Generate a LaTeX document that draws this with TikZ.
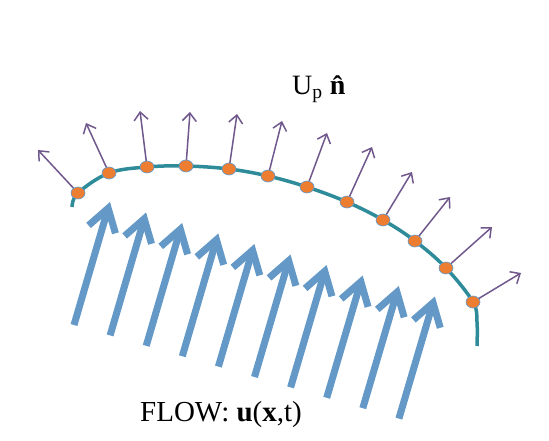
\documentclass[tikz,border=0pt]{standalone}
\usepackage{fontspec}
\setmainfont{Liberation Serif}
\usetikzlibrary{arrows.meta,shapes.geometric}

\definecolor{flowblue}{RGB}{99,152,199}
\definecolor{wallteal}{RGB}{46,139,154}
\definecolor{dotorange}{RGB}{237,125,49}
\definecolor{dotrim}{RGB}{91,155,213}
\definecolor{normpurple}{RGB}{112,88,140}

\tikzset{
  flowarrow/.style={flowblue, line width=7pt, -{Straight Barb[length=22pt,width=28pt]}},
  normalarrow/.style={normpurple, line width=1.5pt, -{Straight Barb[length=8pt,width=14pt]}},
  surfdot/.style={ellipse, draw=dotrim, line width=0.6pt, fill=dotorange, minimum width=14pt, minimum height=12pt, inner sep=0pt}
}

\begin{document}
\begin{tikzpicture}[x=1pt, y=-1pt]

    \useasboundingbox (0,0) rectangle (549,441);

    % Stroemung
    \foreach \i in {0,...,9} {
        \coordinate (ft\i) at (74+36.1*\i, 325+10.4*\i);
        \coordinate (fh\i) at (110+36.1*\i, 202+10.5*\i);
        \draw[flowarrow] (ft\i) -- (fh\i);
    }

    % Oberflaeche
    \draw[wallteal, line width=3.5pt] plot[smooth, tension=0.6] coordinates {
        (72,207) (78,193) (109,173) (147,167) (186,166) (229,169) (268,176)
        (307,187) (347,202) (383,220) (415,241) (446,268) (473,302) (477,322) (477,346)};

    % Normalen und Punkte
    \foreach \i/\x/\y/\tx/\ty in {1/78/193/38/150, 2/109/173/86/123, 3/147/167/140/111,
        4/186/166/190/112, 5/229/169/237/114, 6/268/176/282/121, 7/307/187/327/133,
        8/347/202/372/147, 9/383/220/412/172, 10/415/241/450/197, 11/446/268/492/227,
        12/473/302/521/273} {
        \coordinate (n\i) at (\tx,\ty);
        \draw[normalarrow] (\x,\y) -- (n\i);
        \node[surfdot] (p\i) at (\x,\y) {};
    }

    % Beschriftung
    \node[font=\fontsize{28}{32}\selectfont] (upn) at (321,89) {U\textsubscript{p} \textbf{\^{n}}};
    \node[font=\fontsize{29}{33}\selectfont] (flow) at (221,415) {FLOW: \textbf{u}(\textbf{x},t)};

\end{tikzpicture}
\end{document}
